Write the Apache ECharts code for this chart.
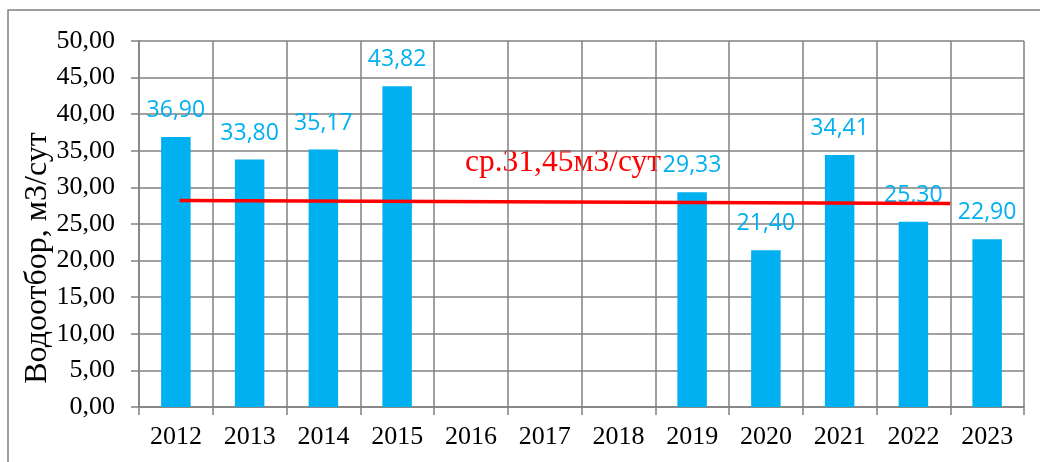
<!DOCTYPE html>
<html>
<head>
<meta charset="utf-8">
<script src="https://cdn.jsdelivr.net/npm/echarts@6/dist/echarts.min.js"></script>
<style>
  html, body { margin: 0; padding: 0; background: #fff; }
  #chart { width: 1040px; height: 462px; }
</style>
</head>
<body>
<div id="chart"></div>
<script>
// годы и водоотбор, м3/сут
var years = ['2012', '2013', '2014', '2015', '2016', '2017', '2018', '2019', '2020', '2021', '2022', '2023'];
var intake = [36.90, 33.80, 35.17, 43.82, null, null, null, 29.33, 21.40, 34.41, 25.30, 22.90];
// средняя линия (x в долях категорий, y в м3/сут)
var avgLine = [[0.55, 28.2], [11.0, 27.8]];
var avgText = 'ср.31,45м3/сут';
var yName = 'Водоотбор, м3/сут';

var gridColor = '#808080';
var fmt = function (v) { return Number(v).toFixed(2).replace('.', ','); };

var myChart = echarts.init(document.getElementById('chart'));
var option = {
    backgroundColor: '#fff',
    animation: false,
    grid: { left: 139, right: 16, top: 41, bottom: 55, containLabel: false },
    xAxis: [
        {
            type: 'category',
            data: years,
            boundaryGap: true,
            axisLine: { show: true, lineStyle: { color: gridColor, width: 1.5 } },
            axisTick: { show: true, length: 8, interval: 0, lineStyle: { color: gridColor, width: 1.5 } },
            axisLabel: { interval: 0, margin: 17, color: '#000', fontFamily: 'Liberation Serif', fontSize: 26 },
            splitLine: { show: true, interval: 0, lineStyle: { color: gridColor, width: 1.5 } }
        },
        {
            type: 'value',
            min: 0,
            max: 12,
            show: false
        }
    ],
    yAxis: {
        type: 'value',
        min: 0,
        max: 50,
        interval: 5,
        axisLine: { show: true, lineStyle: { color: gridColor, width: 1.5 } },
        axisTick: { show: true, length: 8, lineStyle: { color: gridColor, width: 1.5 } },
        axisLabel: { margin: 24, color: '#000', fontFamily: 'Liberation Serif', fontSize: 26, formatter: fmt },
        splitLine: { show: true, lineStyle: { color: gridColor, width: 1.5 } }
    },
    graphic: [
        {
            type: 'rect',
            shape: { x: 8, y: 10, width: 1200, height: 600 },
            style: { fill: null, stroke: gridColor, lineWidth: 1.5 },
            silent: true
        },
        {
            type: 'text',
            x: 38,
            y: 258,
            rotation: Math.PI / 2,
            style: {
                text: yName,
                fill: '#000',
                font: '32px "Liberation Serif"',
                align: 'center',
                verticalAlign: 'middle'
            }
        },
        {
            type: 'text',
            x: 465,
            y: 163,
            style: {
                text: avgText,
                fill: '#ff0000',
                font: '31.5px "Liberation Serif"',
                align: 'left',
                verticalAlign: 'middle'
            }
        }
    ],
    series: [
        {
            name: 'Водоотбор',
            type: 'bar',
            data: intake,
            barWidth: '40%',
            itemStyle: { color: '#00B0F0' },
            label: {
                show: true,
                position: 'top',
                distance: 15,
                color: '#00B0F0',
                fontFamily: 'Open Sans',
                fontSize: 23,
                formatter: function (p) { return fmt(p.value); }
            }
        },
        {
            name: 'среднее',
            type: 'line',
            xAxisIndex: 1,
            data: avgLine,
            symbol: 'none',
            lineStyle: { color: '#ff0000', width: 3.5 },
            z: 5
        }
    ]
};
myChart.setOption(option);
</script>
</body>
</html>
